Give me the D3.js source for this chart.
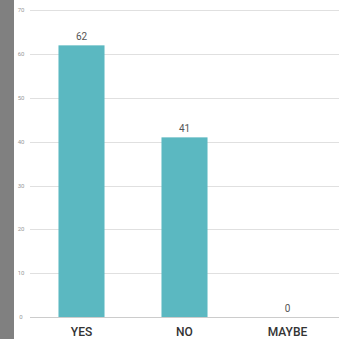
<!DOCTYPE html>
<html><head><meta charset="utf-8">
<script src="https://cdn.jsdelivr.net/npm/d3@7"></script>
<style>body{margin:0;background:#fff;}svg{display:block;}</style>
</head><body>
<script>
const categories = ["YES", "NO", "MAYBE"];
const values = [62, 41, 0];
const yTicks = [0, 10, 20, 30, 40, 50, 60, 70];

const W = 344, H = 339;
const svg = d3.select("body").append("svg").attr("width", W).attr("height", H);

svg.append("rect").attr("x", 0).attr("y", 0).attr("width", 14).attr("height", H).attr("fill", "#808080");

const x = d3.scaleBand().domain(categories).range([30, 339]).paddingInner(0.553).paddingOuter(0.2765);
const y = d3.scaleLinear().domain([0, 70]).range([317, 10.3]);

const grid = svg.append("g");
grid.selectAll("line").data(yTicks).join("line")
  .attr("x1", 30).attr("x2", 339)
  .attr("y1", d => Math.round(y(d)) + 0.5).attr("y2", d => Math.round(y(d)) + 0.5)
  .attr("stroke", d => d === 0 ? "#cccccc" : "#e0e0e0").attr("stroke-width", 1);

svg.append("g").selectAll("text").data(yTicks).join("text")
  .attr("x", 21).attr("y", d => y(d) + 2)
  .attr("text-anchor", "middle")
  .attr("font-family", "Roboto, sans-serif").attr("font-size", 6)
  .attr("fill", "#999").text(d => d);

svg.append("g").selectAll("rect").data(values).join("rect")
  .attr("x", (d, i) => x(categories[i]))
  .attr("width", x.bandwidth())
  .attr("y", d => y(d))
  .attr("height", d => y(0) - y(d))
  .attr("fill", "#5bb8c1");

svg.append("g").selectAll("text").data(values).join("text")
  .attr("x", (d, i) => x(categories[i]) + x.bandwidth() / 2)
  .attr("y", d => y(d) - 5)
  .attr("text-anchor", "middle")
  .attr("font-family", "Roboto, sans-serif").attr("font-size", 10)
  .attr("fill", "#555").text(d => d);

svg.append("g").selectAll("text").data(categories).join("text")
  .attr("x", d => x(d) + x.bandwidth() / 2)
  .attr("y", 336)
  .attr("text-anchor", "middle")
  .attr("font-family", "Roboto, sans-serif").attr("font-size", 12).attr("font-weight", 500)
  .attr("fill", "#333").text(d => d);
</script>
</body></html>
